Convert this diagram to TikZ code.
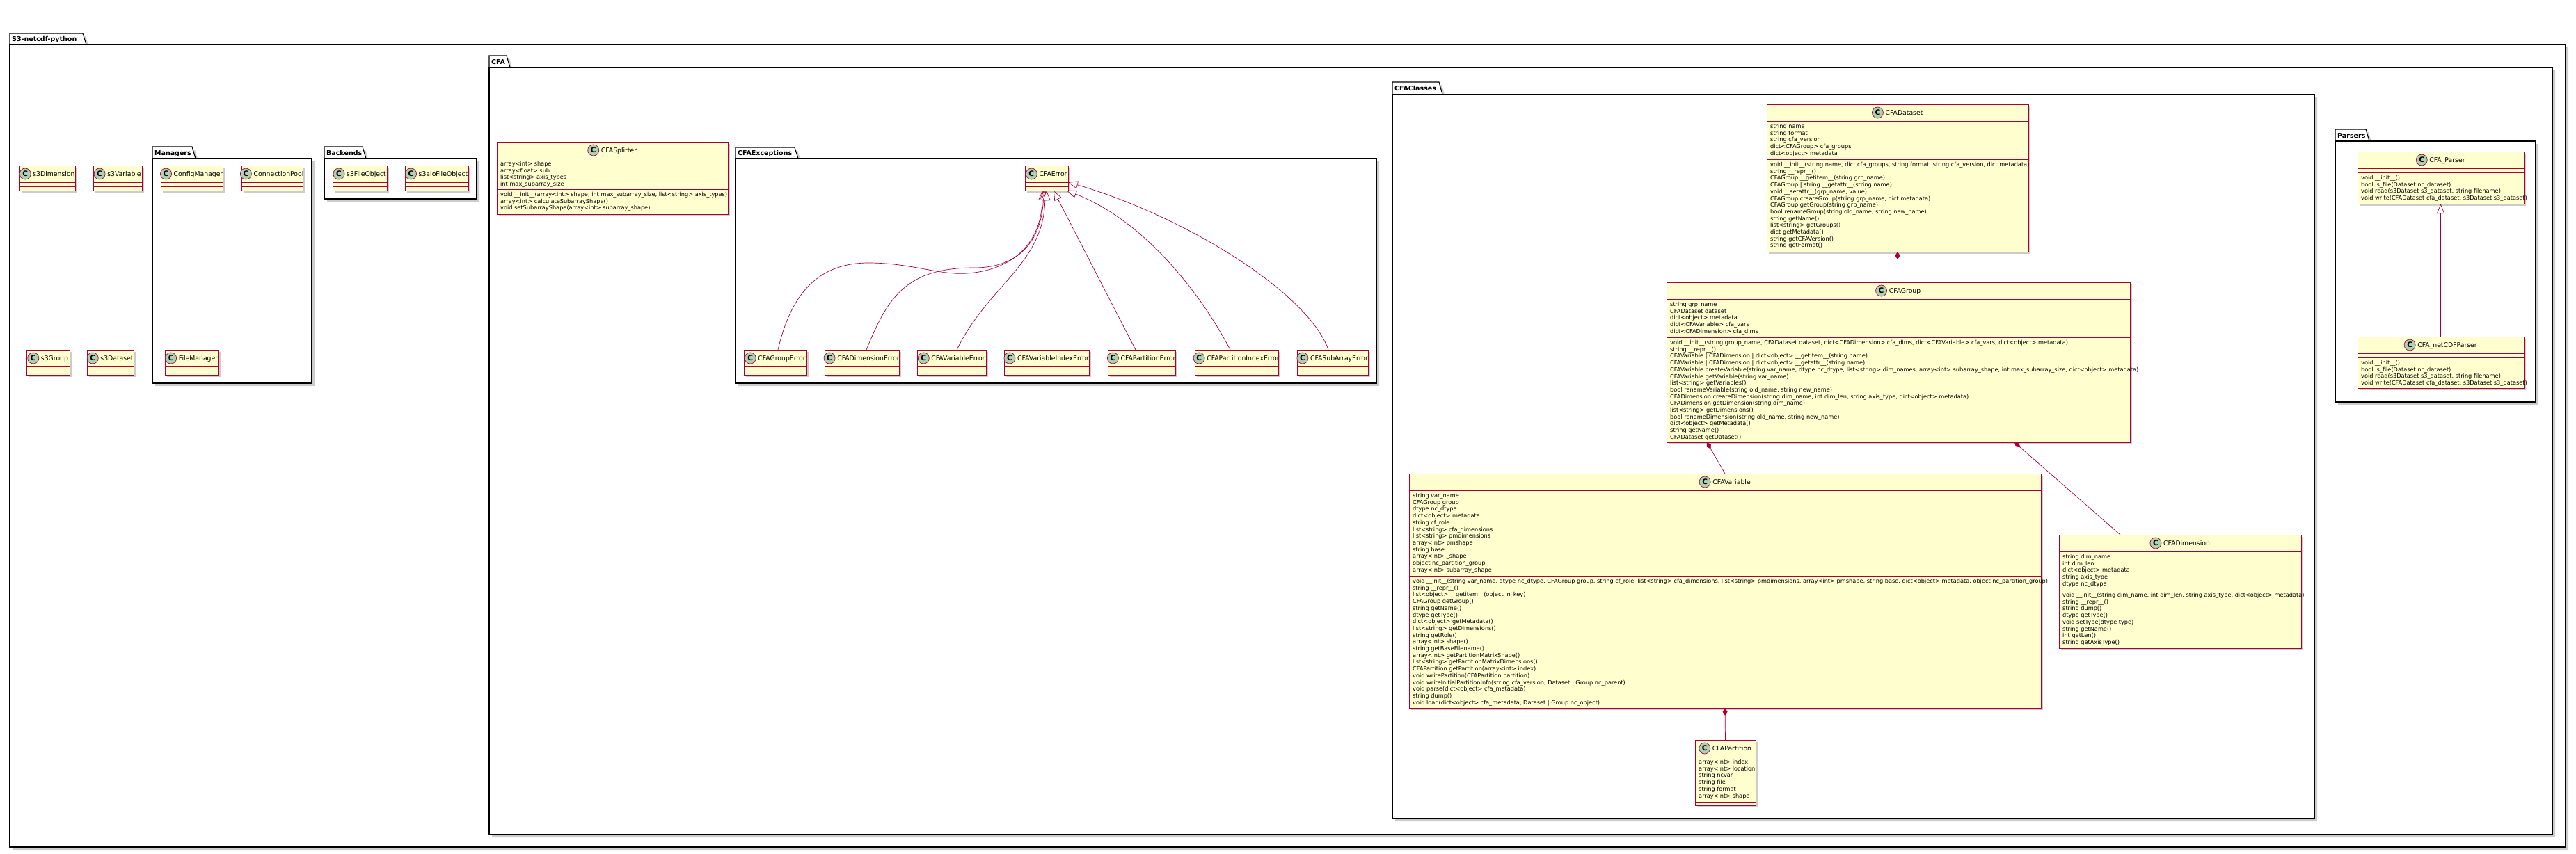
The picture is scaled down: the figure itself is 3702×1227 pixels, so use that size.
\documentclass[tikz,border=0pt]{standalone}
\usepackage{fontspec}
\setmainfont{DejaVu Sans}
\usetikzlibrary{arrows.meta,calc}
\definecolor{umlred}{HTML}{A80036}
\definecolor{umlfill}{HTML}{FEFECE}
\definecolor{iconfill}{HTML}{ADD1B2}
\tikzset{
 shad/.style={fill=black!20},
 cls/.style={draw=umlred, fill=umlfill, line width=0.9pt, inner sep=0pt, outer sep=0pt, rectangle},
 clsline/.style={draw=umlred, line width=0.9pt},
 ttl/.style={inner sep=0pt, anchor=base, font=\fontsize{9.3}{11}\selectfont},
 icon/.style={circle, draw=umlred, fill=iconfill, line width=0.7pt, minimum size=16pt, inner sep=0pt, font=\fontsize{10.5}{12}\selectfont\bfseries},
 memtxt/.style={inner sep=0pt, anchor=base west, font=\fontsize{8.2}{9.7}\selectfont},
 pkgline/.style={draw=black, fill=white, line width=1.1pt},
 pkgbody/.style={draw=black, fill=white, line width=1.1pt, inner sep=0pt, outer sep=0pt, rectangle},
 pkglbl/.style={inner sep=0pt, anchor=base west, font=\fontsize{9.5}{11}\selectfont\bfseries},
 inh/.style={draw=umlred, line width=0.7pt, -{Triangle[length=14pt, width=11pt, fill=white]}},
 comp/.style={draw=umlred, line width=0.7pt, {Diamond[length=11pt, width=7pt]}-},
}
% package: id, L, tabTop, bodyTop, tabR, R, B, label
\newcommand\pkg[8]{%
  \fill[shad] (#2+4,#3+4) -- (#5-1,#3+4) -- (#5+4,#4+4) -- (#6+4,#4+4) -- (#6+4,#7+4) -- (#2+4,#7+4) -- cycle;
  \filldraw[pkgline] (#2,#4) -- (#2,#3) -- (#5-5,#3) -- (#5,#4) -- cycle;
  \node[pkgbody, anchor=north west, minimum width={(#6-#2)*1pt}, minimum height={(#7-#4)*1pt}] (#1) at (#2,#4) {};
  \node[pkglbl] (#1-l) at (#2+3,{(#3+#4)/2+3.5}) {#8};
}
% class: id, x1, y1, x2, y2, header bottom, divider, title
\newcommand\umlclass[8]{%
  \fill[shad] (#2+3,#3+3) rectangle (#4+3,#5+3);
  \node[cls, anchor=north west, minimum width={(#4-#2)*1pt}, minimum height={(#5-#3)*1pt}] (#1) at (#2,#3) {};
  \draw[clsline] (#2,#6) -- (#4,#6);
  \draw[clsline] (#2,#7) -- (#4,#7);
  \node[ttl] (#1-t) at ({(#2+#4)/2+9.5},{(#3+#6)/2+3.4}) {#8};
  \node[icon] (#1-c) at ([xshift=-11pt,yshift=3.4pt]#1-t.base west) {C};
}
% members: id, x, first baseline y, lines
\newcommand\members[4]{%
  \node[memtxt] (#1) at (#2,#3) {\begin{tabular}[t]{@{}l@{}}#4\end{tabular}};
}
\begin{document}
\begin{tikzpicture}[x=1pt,y=-1pt]
\useasboundingbox (0,0) rectangle (3702,1227);
\fill[white] (0,0) rectangle (3702,1227);

% ===== outer package
\pkg{s3pkg}{14}{48}{64}{124}{3687}{1218}{S3-netcdf-python}

\umlclass{s3dim}{28}{238}{108}{274}{262}{268}{s3Dimension}
\umlclass{s3var}{134}{238}{204}{274}{262}{268}{s3Variable}
\umlclass{s3grp}{38}{503}{100}{539}{527}{533}{s3Group}
\umlclass{s3ds}{125}{503}{192}{539}{527}{533}{s3Dataset}

% ===== Managers
\pkg{mgr}{219}{211}{228}{281}{448}{551}{Managers}
\umlclass{cfgmgr}{231}{238}{320}{274}{262}{268}{ConfigManager}
\umlclass{connpool}{347}{238}{435}{274}{262}{268}{ConnectionPool}
\umlclass{filemgr}{237}{503}{314}{539}{527}{533}{FileManager}

% ===== Backends
\pkg{bkd}{466}{211}{228}{526}{685}{286}{Backends}
\umlclass{s3fo}{478}{238}{556}{274}{262}{268}{s3FileObject}
\umlclass{s3aio}{582}{238}{673}{274}{262}{268}{s3aioFileObject}

% ===== CFA
\pkg{cfa}{703}{80}{97}{733}{3668}{1200}{CFA}

\umlclass{cfasp}{714}{204}{1046}{308}{228}{272}{CFASplitter}
\members{cfasp-a}{719}{238.5}{array<int> shape\\array<float> sub\\list<string> axis\_types\\int max\_subarray\_size}
\members{cfasp-m}{719}{282.5}{void \_\_init\_\_(array<int> shape, int max\_subarray\_size, list<string> axis\_types)\\array<int> calculateSubarrayShape()\\void setSubarrayShape(array<int> subarray\_shape)}

% ===== CFAExceptions
\pkg{cfaex}{1057}{212}{228}{1147}{1978}{551}{CFAExceptions}
\umlclass{cfaerr}{1473}{238}{1535}{274}{262}{268}{CFAError}
\umlclass{grperr}{1069}{503}{1159}{539}{527}{533}{CFAGroupError}
\umlclass{dimerr}{1185}{503}{1292}{539}{527}{533}{CFADimensionError}
\umlclass{varerr}{1318}{503}{1417}{539}{527}{533}{CFAVariableError}
\umlclass{varidxerr}{1443}{503}{1565}{539}{527}{533}{CFAVariableIndexError}
\umlclass{parterr}{1592}{503}{1689}{539}{527}{533}{CFAPartitionError}
\umlclass{partidxerr}{1717}{503}{1837}{539}{527}{533}{CFAPartitionIndexError}
\umlclass{subarrerr}{1864}{503}{1966}{539}{527}{533}{CFASubArrayError}

\draw[inh] ($(grperr.north)+(4,0)$) .. controls (1135,430) and (1170,378) .. (1248,378)
  .. controls (1310,378) and (1350,396) .. (1390,393)
  .. controls (1460,388) and (1497,345) .. ($(cfaerr.south)+(-6,0)$);
\draw[inh] ($(dimerr.north)+(6.5,0)$) .. controls (1275,430) and (1300,385) .. (1400,385)
  .. controls (1470,385) and (1497,340) .. ($(cfaerr.south)+(-4,0)$);
\draw[inh] ($(varerr.north)+(7.5,0)$) .. controls (1420,410) and (1500,380) .. ($(cfaerr.south)+(-2,0)$);
\draw[inh] (varidxerr.north) -- (cfaerr.south);
\draw[inh] ($(parterr.north)+(-8.5,0)$) -- ($(cfaerr.south)+(10,0)$);
\draw[inh] ($(partidxerr.north)+(-9,0)$) .. controls (1730,430) and (1650,320) .. ($(cfaerr.south east)+(-2,0)$);
\draw[inh] ($(subarrerr.north)+(-6,0)$) .. controls (1880,420) and (1700,310) .. ($(cfaerr.east)+(0,6)$);

% ===== CFAClasses
\pkg{cfacl}{2001}{118}{136}{2073}{3326}{1177}{CFAClasses}

\umlclass{cfads}{2539}{150}{2915}{362}{174}{229}{CFADataset}
\members{cfads-a}{2544}{184.5}{string name\\string format\\string cfa\_version\\dict<CFAGroup> cfa\_groups\\dict<object> metadata}
\members{cfads-m}{2544}{239.5}{void \_\_init\_\_(string name, dict cfa\_groups, string format, string cfa\_version, dict metadata)\\string \_\_repr\_\_()\\CFAGroup \_\_getitem\_\_(string grp\_name)\\CFAGroup | string \_\_getattr\_\_(string name)\\void \_\_setattr\_\_(grp\_name, value)\\CFAGroup createGroup(string grp\_name, dict metadata)\\CFAGroup getGroup(string grp\_name)\\bool renameGroup(string old\_name, string new\_name)\\string getName()\\list<string> getGroups()\\dict getMetadata()\\string getCFAVersion()\\string getFormat()}

\umlclass{cfagrp}{2395}{406}{3061}{636}{430}{485}{CFAGroup}
\members{cfagrp-a}{2400}{440.5}{string grp\_name\\CFADataset dataset\\dict<object> metadata\\dict<CFAVariable> cfa\_vars\\dict<CFADimension> cfa\_dims}
\members{cfagrp-m}{2400}{495.5}{void \_\_init\_\_(string group\_name, CFADataset dataset, dict<CFADimension> cfa\_dims, dict<CFAVariable> cfa\_vars, dict<object> metadata)\\string \_\_repr\_\_()\\CFAVariable | CFADimension | dict<object> \_\_getitem\_\_(string name)\\CFAVariable | CFADimension | dict<object> \_\_getattr\_\_(string name)\\CFAVariable createVariable(string var\_name, dtype nc\_dtype, list<string> dim\_names, array<int> subarray\_shape, int max\_subarray\_size, dict<object> metadata)\\CFAVariable getVariable(string var\_name)\\list<string> getVariables()\\bool renameVariable(string old\_name, string new\_name)\\CFADimension createDimension(string dim\_name, int dim\_len, string axis\_type, dict<object> metadata)\\CFADimension getDimension(string dim\_name)\\list<string> getDimensions()\\bool renameDimension(string old\_name, string new\_name)\\dict<object> getMetadata()\\string getName()\\CFADataset getDataset()}

\umlclass{cfavar}{2025}{681}{2933}{1018}{705}{828}{CFAVariable}
\members{cfavar-a}{2030}{715.5}{string var\_name\\CFAGroup group\\dtype nc\_dtype\\dict<object> metadata\\string cf\_role\\list<string> cfa\_dimensions\\list<string> pmdimensions\\array<int> pmshape\\string base\\array<int> \_shape\\object nc\_partition\_group\\array<int> subarray\_shape}
\members{cfavar-m}{2030}{838.5}{void \_\_init\_\_(string var\_name, dtype nc\_dtype, CFAGroup group, string cf\_role, list<string> cfa\_dimensions, list<string> pmdimensions, array<int> pmshape, string base, dict<object> metadata, object nc\_partition\_group)\\string \_\_repr\_\_()\\list<object> \_\_getitem\_\_(object in\_key)\\CFAGroup getGroup()\\string getName()\\dtype getType()\\dict<object> getMetadata()\\list<string> getDimensions()\\string getRole()\\array<int> shape()\\string getBaseFilename()\\array<int> getPartitionMatrixShape()\\list<string> getPartitionMatrixDimensions()\\CFAPartition getPartition(array<int> index)\\void writePartition(CFAPartition partition)\\void writeInitialPartitionInfo(string cfa\_version, Dataset | Group nc\_parent)\\void parse(dict<object> cfa\_metadata)\\string dump()\\void load(dict<object> cfa\_metadata, Dataset | Group nc\_object)}

\umlclass{cfadim}{2959}{769}{3307}{932}{793}{848}{CFADimension}
\members{cfadim-a}{2964}{803.5}{string dim\_name\\int dim\_len\\dict<object> metadata\\string axis\_type\\dtype nc\_dtype}
\members{cfadim-m}{2964}{858.5}{void \_\_init\_\_(string dim\_name, int dim\_len, string axis\_type, dict<object> metadata)\\string \_\_repr\_\_()\\string dump()\\dtype getType()\\void setType(dtype type)\\string getName()\\int getLen()\\string getAxisType()}

\umlclass{cfapart}{2436}{1064}{2523}{1158}{1088}{1153}{CFAPartition}
\members{cfapart-a}{2441}{1098.5}{array<int> index\\array<int> location\\string ncvar\\string file\\string format\\array<int> shape}

\draw[comp] (cfads.south) -- (cfads.south |- cfagrp.north);
\draw[comp] ($(cfagrp.south west)+(58,0)$) -- (cfavar.north);
\draw[comp] ($(cfagrp.south west)+(500,0)$) -- ($(cfadim.north west)+(88,0)$);
\draw[comp] (cfavar.south) -- (cfapart.north);

% ===== Parsers
\pkg{prs}{3356}{186}{203}{3405}{3644}{578}{Parsers}
\umlclass{cfaparser}{3388}{218}{3627}{293}{242}{248}{CFA\_Parser}
\members{cfaparser-m}{3393}{258.5}{void \_\_init\_\_()\\bool is\_file(Dataset nc\_dataset)\\void read(s3Dataset s3\_dataset, string filename)\\void write(CFADataset cfa\_dataset, s3Dataset s3\_dataset)}
\umlclass{ncparser}{3388}{484}{3627}{558}{508}{514}{CFA\_netCDFParser}
\members{ncparser-m}{3393}{524.5}{void \_\_init\_\_()\\bool is\_file(Dataset nc\_dataset)\\void read(s3Dataset s3\_dataset, string filename)\\void write(CFADataset cfa\_dataset, s3Dataset s3\_dataset)}
\draw[inh] (ncparser.north) -- (cfaparser.south);
\end{tikzpicture}
\end{document}
